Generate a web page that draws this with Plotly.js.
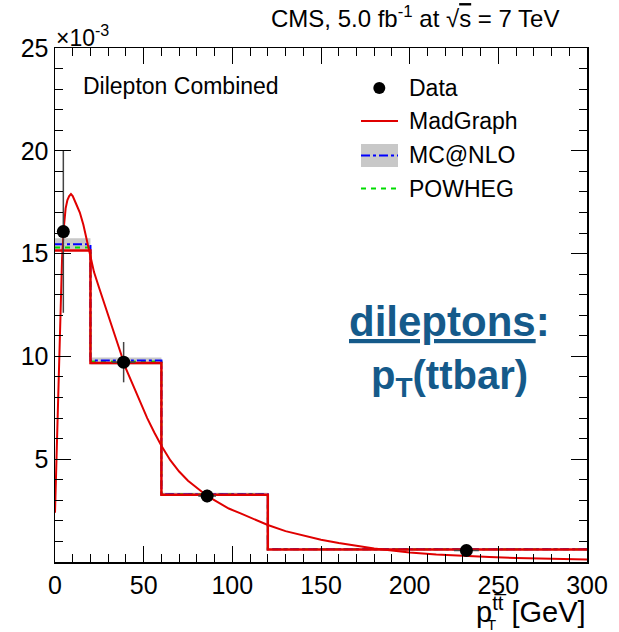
<!DOCTYPE html>
<html>
<head>
<meta charset="utf-8">
<script src="https://cdn.plot.ly/plotly-3.0.1.min.js"></script>
<style>
  html, body { margin: 0; padding: 0; background: #fff; }
  #chart { width: 619px; height: 632px; }
</style>
</head>
<body>
<div id="chart"></div>
<script>
// Bin edges of the pT(tt) distribution [GeV]
const binEdges = [0, 20, 60, 120, 300];

// Normalised differential cross-section per bin, in units of 1e-3 / GeV
const madgraphBins = [15.15, 9.68, 3.27, 0.61];
const mcatnloBins  = [15.45, 9.80, 3.30, 0.62];
const mcatnloLow   = [15.20, 9.60, 3.22, 0.59];
const mcatnloHigh  = [15.75, 9.95, 3.37, 0.65];
const powhegBins   = [15.30, 9.75, 3.30, 0.62];

// MadGraph prediction in fine bins
const curvePt  = [0, 1, 2, 3, 4, 5, 6, 7, 8, 9, 10, 12, 14, 16, 18, 20, 22, 25, 28, 31,
                  34, 37, 40, 44, 48, 52, 56, 60, 65, 70, 75, 80, 86, 92, 98, 105, 112, 120,
                  130, 140, 150, 160, 170, 180, 190, 200, 215, 230, 245, 260, 275, 290, 300];
const curveVal = [2.4, 5.4, 8.3, 12.0, 14.8, 16.3, 17.2, 17.6, 17.8, 17.9, 17.8, 17.4, 17.0, 16.4,
                  15.6, 14.8, 14.1, 13.3, 12.5, 11.7, 11.0, 10.2, 9.4, 8.6, 7.8, 7.0, 6.3, 5.65,
                  4.95, 4.4, 3.95, 3.6, 3.2, 2.9, 2.6, 2.35, 2.1, 1.8, 1.5, 1.28, 1.08, 0.92,
                  0.78, 0.66, 0.56, 0.46, 0.36, 0.29, 0.24, 0.20, 0.16, 0.13, 0.12];

// Measured points (placed at the bin-centre-corrected pT)
const dataPt    = [4.7, 38.7, 85.8, 232];
const dataVal   = [16.07, 9.72, 3.21, 0.56];
const dataErr   = [3.95, 0.98, 0.30, 0.06];
const dataPtErr = [3.0, 6.6, 5.0, 7.0];

// Axis ticks
const xTickVals = [0, 50, 100, 150, 200, 250, 300];
const yTickVals = [5, 10, 15, 20, 25];

// Repeat the last bin so an 'hv' line closes the final bin
const steps = v => v.concat([v[v.length - 1]]);

const FONT = 'Liberation Sans, Arial, Helvetica, sans-serif';
const RED = '#e00000', BLUE = '#0000ff', GREEN = '#00dd00', BAND = '#c8c8c8';
const TITLE_BLUE = '#155a8a';

const traces = [
  // MC@NLO uncertainty band: lower edge, central filled down to it, upper edge filled down to central
  { x: binEdges, y: steps(mcatnloLow), mode: 'lines', line: { shape: 'hv', width: 0 },
    hoverinfo: 'skip', showlegend: false },
  { x: binEdges, y: steps(mcatnloBins), mode: 'lines', fill: 'tonexty', fillcolor: BAND,
    line: { shape: 'hv', width: 0 }, hoverinfo: 'skip', showlegend: false },
  { x: binEdges, y: steps(mcatnloHigh), mode: 'lines', fill: 'tonexty', fillcolor: BAND,
    line: { shape: 'hv', width: 0 }, hoverinfo: 'skip', showlegend: false },
  // POWHEG
  { x: binEdges, y: steps(powhegBins), mode: 'lines', name: 'POWHEG',
    line: { shape: 'hv', color: GREEN, width: 2, dash: '5px,5px' }, showlegend: false },
  // MC@NLO central
  { x: binEdges, y: steps(mcatnloBins), mode: 'lines', name: 'MC@NLO',
    line: { shape: 'hv', color: BLUE, width: 2, dash: 'dashdot' }, showlegend: false },
  // MadGraph histogram
  { x: binEdges, y: steps(madgraphBins), mode: 'lines', name: 'MadGraph',
    line: { shape: 'hv', color: RED, width: 2.5 }, showlegend: false },
  // MadGraph fine-binned curve
  { x: curvePt, y: curveVal, mode: 'lines', name: 'MadGraph fine',
    line: { color: RED, width: 2 }, showlegend: false },
  // Data
  { x: dataPt, y: dataVal, mode: 'markers', name: 'Data',
    marker: { color: '#000', size: 13 },
    error_y: { type: 'data', array: dataErr, color: '#444', thickness: 1.5, width: 0 },
    error_x: { type: 'data', array: dataPtErr, color: '#444', thickness: 1.5, width: 0 },
    showlegend: false },
  // empty trace that brings up the top/right tick axes of the frame
  { x: [], y: [], xaxis: 'x2', yaxis: 'y2', mode: 'lines', showlegend: false, hoverinfo: 'skip' }
];

// Plot frame in page pixels, used to place the hand-drawn legend and labels
const L = 55, R = 587, T = 48, B = 562;
const px = x => (x - L) / (R - L);
const py = y => (B - y) / (B - T);

const legendShapes = [
  { type: 'circle', xref: 'paper', yref: 'paper',
    x0: px(373.3), x1: px(385.3), y0: py(94), y1: py(82),
    fillcolor: '#000', line: { width: 0 } },
  { type: 'line', xref: 'paper', yref: 'paper', x0: px(361), x1: px(398), y0: py(121), y1: py(121),
    line: { color: RED, width: 2 } },
  { type: 'rect', xref: 'paper', yref: 'paper', x0: px(361), x1: px(398), y0: py(167), y1: py(144),
    fillcolor: BAND, line: { width: 0 } },
  { type: 'line', xref: 'paper', yref: 'paper', x0: px(361), x1: px(398), y0: py(155.5), y1: py(155.5),
    line: { color: BLUE, width: 2, dash: 'dashdot' } },
  { type: 'line', xref: 'paper', yref: 'paper', x0: px(361), x1: px(398), y0: py(188.5), y1: py(188.5),
    line: { color: GREEN, width: 2, dash: '5px,5px' } }
];

const legendText = (text, y) => ({
  text, xref: 'paper', yref: 'paper', x: px(407), y: py(y), xanchor: 'left', yanchor: 'middle',
  showarrow: false, font: { family: FONT, size: 23, color: '#000' }
});

const OVER = t => '<span style="text-decoration:overline">' + t + '</span>';

const annotations = [
  { text: 'CMS, 5.0 fb<sup>-1</sup> at √' + OVER('s') + ' = 7 TeV',
    xref: 'paper', yref: 'paper', x: px(561), y: py(17), xanchor: 'right', yanchor: 'middle',
    showarrow: false, font: { family: FONT, size: 24, color: '#000' } },
  { text: '×10<sup>-3</sup>', xref: 'paper', yref: 'paper', x: px(54), y: py(36),
    xanchor: 'left', yanchor: 'middle', showarrow: false,
    font: { family: FONT, size: 23, color: '#000' } },
  { text: 'Dilepton Combined', xref: 'paper', yref: 'paper', x: px(81), y: py(86),
    xanchor: 'left', yanchor: 'middle', showarrow: false,
    font: { family: FONT, size: 23, color: '#000' } },
  legendText('Data', 88),
  legendText('MadGraph', 121),
  legendText('MC@NLO', 155),
  legendText('POWHEG', 189),
  { text: '<b><u>dileptons</u>:</b>', xref: 'paper', yref: 'paper', x: px(450), y: py(321),
    xanchor: 'center', yanchor: 'middle', showarrow: false,
    font: { family: FONT, size: 42, color: TITLE_BLUE } },
  { text: '<b>p<sub>T</sub>(ttbar)</b>', xref: 'paper', yref: 'paper', x: px(449), y: py(378),
    xanchor: 'center', yanchor: 'middle', showarrow: false,
    font: { family: FONT, size: 40, color: TITLE_BLUE } },
  // x-axis title: p_T^{tt̄} [GeV]; the subscript T sits under the superscript
  { text: 'p<sup>tt\u0305</sup> [GeV]', xref: 'paper', yref: 'paper', x: px(588), y: py(610),
    xanchor: 'right', yanchor: 'middle', showarrow: false,
    font: { family: FONT, size: 29, color: '#000' } },
  { text: 'T', xref: 'paper', yref: 'paper', x: px(491), y: py(624),
    xanchor: 'center', yanchor: 'middle', showarrow: false,
    font: { family: FONT, size: 15, color: '#000' } }
];

const axisCommon = {
  ticks: 'inside', tickcolor: '#000', tickwidth: 1, ticklen: 16,
  showline: true, linecolor: '#000', linewidth: 1.5, mirror: false,
  showgrid: false, zeroline: false, fixedrange: true,
  tickfont: { family: FONT, size: 25, color: '#000' }
};
const xMinor = { dtick: 10, ticks: 'inside', ticklen: 8, tickcolor: '#000', tickwidth: 1, showgrid: false };
const yMinor = { dtick: 1, ticks: 'inside', ticklen: 8, tickcolor: '#000', tickwidth: 1, showgrid: false };

const layout = {
  width: 619, height: 632,
  margin: { l: L, r: 619 - R, t: T, b: 632 - B, pad: 0 },
  paper_bgcolor: '#fff', plot_bgcolor: '#fff',
  showlegend: false,
  xaxis: Object.assign({}, axisCommon, {
    range: [0, 300], tickmode: 'array', tickvals: xTickVals, minor: xMinor
  }),
  yaxis: Object.assign({}, axisCommon, {
    range: [0, 25], tickmode: 'array', tickvals: yTickVals, minor: yMinor
  }),
  // top and right edges of the frame with their own inside ticks
  xaxis2: Object.assign({}, axisCommon, {
    overlaying: 'x', side: 'top', anchor: 'y2', showticklabels: false,
    range: [0, 300], tickmode: 'array', tickvals: xTickVals, minor: xMinor
  }),
  yaxis2: Object.assign({}, axisCommon, {
    overlaying: 'y', side: 'right', anchor: 'x2', showticklabels: false,
    range: [0, 25], tickmode: 'array', tickvals: yTickVals, minor: yMinor
  }),
  shapes: legendShapes,
  annotations
};

Plotly.newPlot('chart', traces, layout, { displayModeBar: false, staticPlot: true });
</script>
</body>
</html>
